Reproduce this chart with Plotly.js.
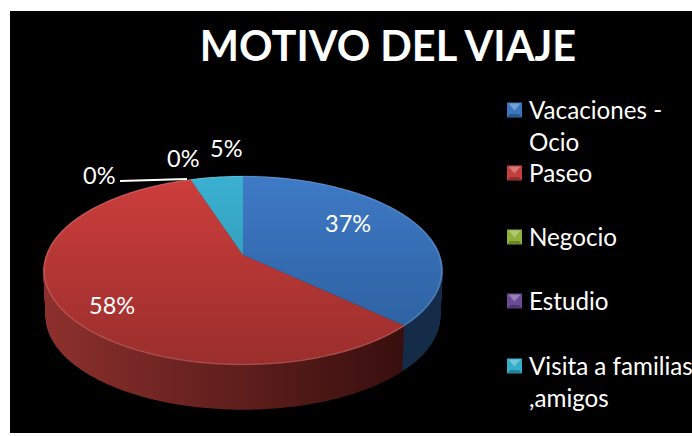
<!DOCTYPE html>
<html>
<head>
<meta charset="utf-8">
<script src="https://cdn.plot.ly/plotly-3.0.1.min.js"></script>
<style>html,body{margin:0;padding:0;background:#fff;overflow:hidden}#c{width:692px;height:436px}</style>
</head>
<body>
<div id="c"></div>
<script>
var categories = ['Vacaciones -<br>Ocio', 'Paseo', 'Negocio', 'Estudio', 'Visita a familias<br>,amigos'];
var values = [37, 58, 0, 0, 5];
var baseColors = ['#3A76BE', '#C23F3D', '#8FB03A', '#6A4A96', '#35AECB'];
var faceTop = ['#3E7AC6', '#CC3E3C', '#9BBB59', '#8064A2', '#3AB0D2'];
var faceBottom = ['#2A5C9A', '#9A2E2C', '#7A9440', '#5C4680', '#2B8CA2'];
var wallLeft = ['#1C3A5C', '#8C302D', '#5A6E30', '#4A3A60', '#1E6070'];
var wallRight = ['#152C48', '#380F0E', '#3A4820', '#302640', '#143E48'];
var labelPositions = [[348, 223], [112, 305], [183, 158], [99, 175], [226, 148]];
var labelSource = [0, 1, 2, 3, 4];
var legendY = [110, 173, 237, 301, 366];

var W = 692, H = 436;
function px(x) { return x / W; }
function py(y) { return 1 - y / H; }
var total = values.reduce(function (a, b) { return a + b; }, 0);

var annotations = labelSource.map(function (idx, i) {
  return {
    text: Math.round(values[idx] / total * 100) + '%',
    xref: 'paper', yref: 'paper',
    x: px(labelPositions[i][0]), y: py(labelPositions[i][1]),
    xanchor: 'center', yanchor: 'middle', showarrow: false,
    font: { family: 'Lato, sans-serif', size: 23.5, color: '#fff' }
  };
});

var data = [{
  type: 'pie', labels: categories, values: values, sort: false, direction: 'clockwise', rotation: 0,
  marker: { colors: baseColors, line: { width: 0 } }, textinfo: 'none',
  domain: { x: [px(83), px(403)], y: [py(430), py(110)] }
}];
var layout = {
  width: W, height: H, margin: { l: 0, r: 0, t: 0, b: 0, autoexpand: false },
  paper_bgcolor: '#fff', plot_bgcolor: '#000',
  title: { text: '<b>MOTIVO DEL VIAJE</b>', x: px(388), xanchor: 'center', y: py(46), yanchor: 'middle',
    font: { family: 'Lato, sans-serif', size: 41.5, color: '#fff' } },
  showlegend: true,
  legend: { x: px(500), y: py(90), xanchor: 'left', yanchor: 'top', bgcolor: 'rgba(0,0,0,0)',
    font: { family: 'Lato, sans-serif', size: 24.2, color: '#fff' } },
  annotations: annotations,
  shapes: [
    { type: 'rect', xref: 'paper', yref: 'paper', x0: px(10), x1: 1, y0: py(433), y1: py(11), fillcolor: '#000', line: { width: 0 }, layer: 'below' },
    { type: 'line', xref: 'paper', yref: 'paper', x0: px(120), y0: py(181), x1: px(187), y1: py(179), line: { color: '#fff', width: 2 } }
  ]
};

// perspective of the disc: horizontal radius, foreshortening, apex position
var CX = 243, CY = 255, B = 197, A = 92, K = -0.164;
function project(X, Y, s, dy) {
  var w = 1 + K * Y;
  return [CX + s * B * X / w, CY + dy + s * A * Y / w];
}
function arcPoints(p, s, dy) {
  var a0 = Math.atan2(p.px0[1], p.px0[0]);
  var span = p.v / total * 2 * Math.PI;
  var n = Math.max(4, Math.ceil(span * 60)), pts = [];
  for (var i = 0; i <= n; i++) {
    var t = a0 + span * i / n;
    pts.push(project(Math.cos(t), Math.sin(t), s, dy).map(function (v) { return v.toFixed(2); }).join(','));
  }
  return pts;
}
function sectorPath(p, s, dy) {
  var apex = project(0, 0, s, dy);
  return 'M' + apex[0] + ',' + apex[1] + 'L' + arcPoints(p, s, dy).join('L') + 'Z';
}
var NS = 'http://www.w3.org/2000/svg';
function grad(defs, id, x1, y1, x2, y2, c1, c2) {
  var g = document.createElementNS(NS, 'linearGradient');
  g.setAttribute('id', id);
  g.setAttribute('gradientUnits', 'userSpaceOnUse');
  [['x1', x1], ['y1', y1], ['x2', x2], ['y2', y2]].forEach(function (a) { g.setAttribute(a[0], a[1]); });
  [[0, c1], [1, c2]].forEach(function (st) {
    var s = document.createElementNS(NS, 'stop');
    s.setAttribute('offset', st[0]); s.setAttribute('stop-color', st[1]);
    g.appendChild(s);
  });
  defs.appendChild(g);
}

Plotly.newPlot('c', data, layout, { staticPlot: true, displayModeBar: false }).then(function (gd) {
  var svg = gd.querySelector('svg.main-svg');
  var defs = gd.querySelector('defs') || svg.appendChild(document.createElementNS(NS, 'defs'));
  values.forEach(function (v, i) {
    grad(defs, 'face' + i, 0, 176, 0, 365, faceTop[i], faceBottom[i]);
    grad(defs, 'wall' + i, 48, 0, 400, 0, wallLeft[i], wallRight[i]);
  });
  var trace = gd.querySelector('.pielayer .trace');
  var slices = Array.prototype.slice.call(trace.querySelectorAll('g.slice'));
  var wallG = document.createElementNS(NS, 'g');
  trace.insertBefore(wallG, trace.firstChild);
  var DEPTH = 46;
  var info = slices.map(function (g) { return g.__data__; });
  for (var d = DEPTH; d >= 1; d--) {
    var s = 1 - 0.012 * d / DEPTH;
    info.forEach(function (p) {
      if (!p || !(p.v > 0)) return;
      var path = document.createElementNS(NS, 'path');
      path.setAttribute('d', sectorPath(p, s, d));
      path.setAttribute('fill', 'url(#wall' + p.i + ')');
      wallG.appendChild(path);
    });
  }
  slices.forEach(function (g) {
    var p = g.__data__;
    var path = g.querySelector('path.surface');
    if (!p || !(p.v > 0)) { g.style.display = 'none'; return; }
    g.removeAttribute('transform');
    path.setAttribute('d', sectorPath(p, 1, 0));
    path.style.fill = 'url(#face' + p.i + ')';
    path.style.stroke = 'none';
    var rim = document.createElementNS(NS, 'path');
    rim.setAttribute('d', 'M' + arcPoints(p, 0.995, 0).join('L'));
    rim.setAttribute('fill', 'none');
    rim.setAttribute('stroke', 'rgba(255,255,255,0.14)');
    rim.setAttribute('stroke-width', '1.5');
    g.appendChild(rim);
  });

  // legend placement
  var legend = gd.querySelector('.legend');
  legend.setAttribute('transform', 'translate(0,0)');
  var sb = legend.querySelector('.scrollbox');
  sb.removeAttribute('clip-path'); sb.style.clipPath = 'none';
  sb.setAttribute('transform', 'translate(0,0)');
  var bg = legend.querySelector('.bg'); if (bg) bg.style.display = 'none';
  var items = Array.prototype.slice.call(legend.querySelectorAll('.traces'));
  items.forEach(function (it, i) {
    it.setAttribute('transform', 'translate(0,' + legendY[i] + ')');
    var sym = it.querySelector('.legendsymbols');
    sym.setAttribute('transform', 'translate(514.5,0)');
    var pth = it.querySelector('path.legendpie');
    if (pth) {
      pth.removeAttribute('transform');
      pth.setAttribute('d', 'M-7.5,-7.5h15v15h-15z');
      pth.style.stroke = 'none';
      pth.style.strokeWidth = 0;
      pth.style.fill = baseColors[i];
      var tri = document.createElementNS(NS, 'path');
      tri.setAttribute('d', 'M-6,-6.5h12l-6,7z');
      tri.setAttribute('fill', 'rgba(255,255,255,0.3)');
      pth.parentNode.appendChild(tri);
      var tri2 = document.createElementNS(NS, 'path');
      tri2.setAttribute('d', 'M-7.5,7.5h15l-3,-3.5h-9z');
      tri2.setAttribute('fill', 'rgba(0,0,0,0.25)');
      pth.parentNode.appendChild(tri2);
    }
    var txt = it.querySelector('text.legendtext');
    txt.setAttribute('x', 529); txt.setAttribute('y', 8.5);
    txt.querySelectorAll('tspan.line').forEach(function (ts, n) {
      ts.setAttribute('x', 529);
      ts.setAttribute('y', 8.5 + 32 * n);
      ts.removeAttribute('dy');
    });
  });
});
</script>
</body>
</html>
